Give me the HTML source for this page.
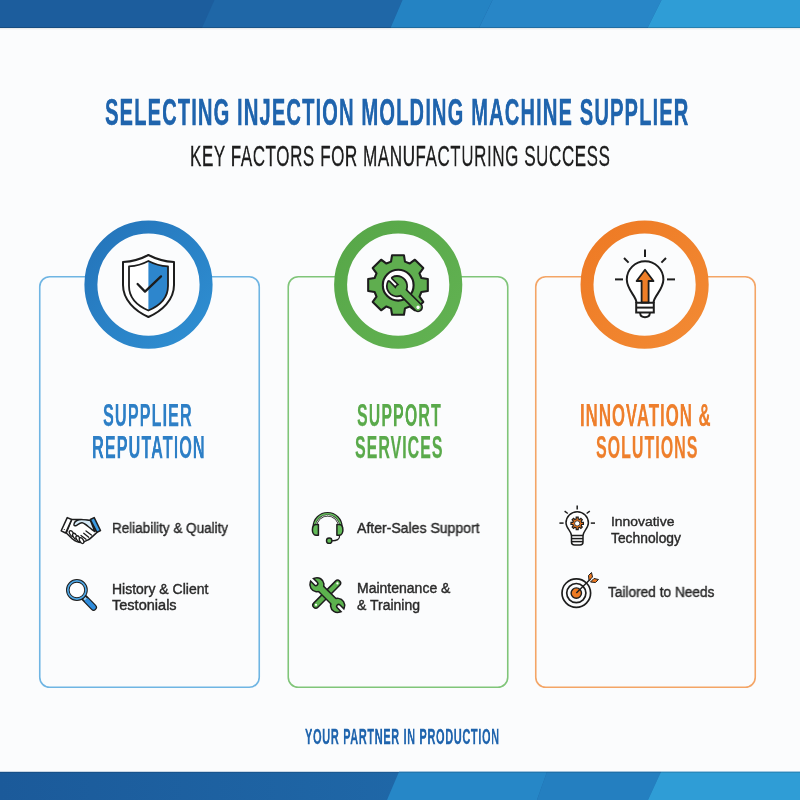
<!DOCTYPE html>
<html><head><meta charset="utf-8">
<style>
html,body{margin:0;padding:0;}
body{width:800px;height:800px;position:relative;overflow:hidden;background:#fbfcfd;font-family:"Liberation Sans",sans-serif;}
.t{position:absolute;white-space:nowrap;line-height:1;transform-origin:0 0;will-change:transform;}
svg{position:absolute;left:0;top:0;}
</style></head><body>
<svg width="800" height="800" viewBox="0 0 800 800">
<defs>
<linearGradient id="gb" x1="0" y1="0" x2="1" y2="1"><stop offset="0" stop-color="#2474ba"/><stop offset="1" stop-color="#2f8fd2"/></linearGradient>
<linearGradient id="gg" x1="0" y1="0" x2="1" y2="1"><stop offset="0" stop-color="#57a748"/><stop offset="1" stop-color="#62b252"/></linearGradient>
<linearGradient id="go" x1="0" y1="0" x2="1" y2="1"><stop offset="0" stop-color="#ee7a24"/><stop offset="1" stop-color="#f28a34"/></linearGradient>
<linearGradient id="shd" x1="0" y1="0" x2="0" y2="1"><stop offset="0" stop-color="#000" stop-opacity="0.10"/><stop offset="1" stop-color="#000" stop-opacity="0"/></linearGradient>
<linearGradient id="bbg" x1="0" y1="0" x2="400" y2="0" gradientUnits="userSpaceOnUse"><stop offset="0" stop-color="#1b5a9a"/><stop offset="1" stop-color="#1f67a7"/></linearGradient>
<clipPath id="rhalf"><rect x="148.4" y="250" width="40" height="80"/></clipPath>
</defs>
<g>
<rect x="0" y="0" width="800" height="28" fill="#1c5d9d"/>
<polygon points="214.5,0 402.5,0 390.5,28 202,28" fill="#1f67a7"/>
<polygon points="402.5,0 492.5,0 479,28 390.5,28" fill="#2483c3"/>
<polygon points="492.5,0 661.5,0 647.5,28 479,28" fill="#2886c7"/>
<polygon points="661.5,0 800,0 800,28 647.5,28" fill="#2f9dd6"/>
<rect x="0" y="27" width="800" height="1" fill="#000" opacity="0.18"/>
<rect x="0" y="28" width="800" height="2" fill="url(#shd)"/>
</g>
<g>
<rect x="0" y="771.8" width="800" height="28.2" fill="url(#bbg)"/>
<polygon points="399,771.8 547,771.8 537,800 387,800" fill="#2687c7"/>
<polygon points="547,771.8 661,771.8 648,800 537,800" fill="#247fc0"/>
<polygon points="661,771.8 800,771.8 800,800 648,800" fill="#2f9dd6"/>
<rect x="0" y="771.8" width="800" height="1" fill="#000" opacity="0.15"/>
</g>
<rect x="39.75" y="276.75" width="219.5" height="410.5" rx="10" fill="none" stroke="#6fb5e3" stroke-width="1.6"/>
<rect x="288.25" y="276.75" width="219.5" height="410.5" rx="10" fill="none" stroke="#80c579" stroke-width="1.6"/>
<rect x="535.75" y="276.75" width="219.5" height="410.5" rx="10" fill="none" stroke="#f4a566" stroke-width="1.6"/>
<circle cx="148.5" cy="284.6" r="57.6" fill="#fbfcfd" stroke="url(#gb)" stroke-width="13"/>
<circle cx="398.2" cy="284.6" r="57.6" fill="#fbfcfd" stroke="url(#gg)" stroke-width="13"/>
<circle cx="644.6" cy="284.6" r="57.6" fill="#fbfcfd" stroke="url(#go)" stroke-width="13"/>
<g stroke="#1d1d1d" stroke-linejoin="round">
<path d="M148.4,255 C156,259 165,261.5 174,262 L174,285 C174,300 162,311 148.4,317 C135,311 123,300 123,285 L123,262 C132,261.5 141,259 148.4,255 Z" fill="#fff" stroke-width="2.0"/>
<path d="M148.4,261 C155,264.5 161.5,266 168,266.4 L168,286 C168,298 159,306 148.4,310.5 C138,306 129,298 129,286 L129,266.4 C135.5,266 142,264.5 148.4,261 Z" fill="#fff" stroke="none"/>
<path clip-path="url(#rhalf)" d="M148.4,261 C155,264.5 161.5,266 168,266.4 L168,286 C168,298 159,306 148.4,310.5 C138,306 129,298 129,286 L129,266.4 C135.5,266 142,264.5 148.4,261 Z" fill="#2d86cd" stroke="none"/>
<path d="M148.4,261 C155,264.5 161.5,266 168,266.4 L168,286 C168,298 159,306 148.4,310.5 C138,306 129,298 129,286 L129,266.4 C135.5,266 142,264.5 148.4,261 Z" fill="none" stroke-width="1.8"/>
<path d="M137.6,284 L145,291.6 L161,276.4" fill="none" stroke-width="2.3" stroke-linecap="round"/>
</g>
<path d="M391.01,261.62 L392.07,255.18 L403.93,255.18 L404.99,261.62 L409.59,263.53 L414.89,259.72 L423.28,268.11 L419.47,273.41 L421.38,278.01 L427.82,279.07 L427.82,290.93 L421.38,291.99 L419.47,296.59 L423.28,301.89 L414.89,310.28 L409.59,306.47 L404.99,308.38 L403.93,314.82 L392.07,314.82 L391.01,308.38 L386.41,306.47 L381.11,310.28 L372.72,301.89 L376.53,296.59 L374.62,291.99 L368.18,290.93 L368.18,279.07 L374.62,278.01 L376.53,273.41 L372.72,268.11 L381.11,259.72 L386.41,263.53Z" fill="#5fae4f" stroke="#1d1d1d" stroke-width="2.1" stroke-linejoin="round"/>
<circle cx="398.2" cy="285.2" r="15.4" fill="#fff" stroke="#1d1d1d" stroke-width="2.1"/>
<g transform="translate(397,286.2) rotate(45)">
<defs><g id="wr1">
<path d="M-8.90,-2.7 L-0.2,-2.7 A2.7,2.7 0 0 1 -0.2,2.7 L-8.90,2.7 A9.3,9.3 0 1 0 -8.90,-2.7 Z"/>
<rect x="0" y="-3.3" width="33" height="6.6" rx="3.3"/>
</g></defs>
<use href="#wr1" fill="#1d1d1d" stroke="#1d1d1d" stroke-width="3.4" stroke-linejoin="round"/>
<use href="#wr1" fill="#5fae4f"/>
<circle cx="29.8" cy="0" r="1.7" fill="#fff"/>
</g>
<g stroke="#1d1d1d" fill="none" stroke-width="2" stroke-linecap="butt">
<path d="M636.5,303 C636.5,296 627,290.5 626.8,279.6 A18.3,18.3 0 1 1 663.4,279.6 C663.2,290.5 653.5,296 653.5,303" fill="#fff"/>
<path d="M640.2,312.4 L640.2,313.5 Q640.5,317.2 645,317.2 Q649.5,317.2 649.8,313.5 L649.8,312.4" fill="#fff"/>
<path d="M636.2,302.8 L653.8,302.8 L653.8,312.4 L636.2,312.4 Z" fill="#fff"/>
<line x1="636.2" y1="307.6" x2="653.8" y2="307.6"/>
<line x1="645" y1="249.5" x2="645" y2="257"/>
<line x1="624" y1="258" x2="628.6" y2="262.6"/>
<line x1="666" y1="258" x2="661.4" y2="262.6"/>
<line x1="615" y1="279.4" x2="623" y2="279.4"/>
<line x1="667" y1="279.4" x2="675" y2="279.4"/>
<path d="M645,269.8 L653.5,281 L648.6,281 L648.6,302.5 L641.6,302.5 L641.6,281 L636.6,281 Z" fill="#ef7e27" stroke-width="1.8" stroke-linejoin="round"/>
</g>
<g stroke="#1d1d1d" stroke-width="1.5" stroke-linejoin="round" stroke-linecap="round">
<path d="M71.6,519.6 L81,519.4 L90.4,520.6 L96.9,532.4 C93,536 90,539 87.6,540.2 C85,541.6 83,542.6 81,542.6 C78,542.6 75,541 72.5,539 L66.3,533 Z" fill="#fff"/>
<ellipse cx="71.6" cy="533.6" rx="3.2" ry="1.75" transform="rotate(58 71.6 533.6)" fill="#fff" stroke-width="1.3"/><ellipse cx="74.9" cy="536.2" rx="3.2" ry="1.75" transform="rotate(58 74.9 536.2)" fill="#fff" stroke-width="1.3"/><ellipse cx="78.2" cy="538.7" rx="3.2" ry="1.75" transform="rotate(58 78.2 538.7)" fill="#fff" stroke-width="1.3"/><ellipse cx="81.6" cy="540.6" rx="3.2" ry="1.75" transform="rotate(58 81.6 540.6)" fill="#fff" stroke-width="1.3"/>
<path d="M73.9,525 C74,522.5 76,520.5 79,519.8 C82,519.2 86,519.8 90.4,520.6 L94.8,531.6 C93,530.5 91,529 89.8,527.8 C87,525.5 84.5,523.2 82.1,522.8 C80,522.6 78,524.5 76.6,525.3 C75.5,526 74,526 73.9,525 Z" fill="#d6ebf8" stroke-width="1.4"/>
<path d="M86,531 L91.4,535 M83.7,533.3 L88.7,537.2 M81,535.5 L86,539.3" fill="none" stroke-width="1.3"/>
<path d="M67.25,517.6 L71.65,519.5 L65.6,533 L61.2,530.8 Z" fill="#fff"/>
<path d="M90.35,519.5 L94.2,517.6 L100.5,530.5 L96.95,532.4 Z" fill="#3b9be3"/>
<circle cx="64.3" cy="529.5" r="0.6" fill="#1d1d1d" stroke="none"/>
</g>
<g stroke-linecap="round">
<line x1="84.6" y1="598.2" x2="93.6" y2="607.4" stroke="#1d1d1d" stroke-width="6.8"/>
<line x1="86.8" y1="600.4" x2="93.6" y2="607.4" stroke="#2e8cdc" stroke-width="4.4"/>
<line x1="84.2" y1="597.8" x2="85.8" y2="599.4" stroke="#9ad0f2" stroke-width="3.2" stroke-linecap="butt"/>
<circle cx="76.9" cy="590" r="9.1" fill="#fff" stroke="#1d1d1d" stroke-width="3.6"/>
<circle cx="76.9" cy="590" r="9.1" fill="none" stroke="#4ea6e4" stroke-width="1.7"/>
</g>
<g stroke="#1d1d1d" stroke-linejoin="round" stroke-linecap="round">
<path d="M314.8,527 A12.8,12.8 0 0 1 340.4,527" fill="none" stroke-width="4.6"/>
<path d="M314.4,527 A13.2,13.2 0 0 1 340.8,527" fill="none" stroke="#66be5c" stroke-width="1.5"/>
<path d="M315.9,527 A11.7,11.7 0 0 1 339.3,527" fill="none" stroke="#d9e6d8" stroke-width="0.9"/>
<path d="M318.4,524.6 L318.4,535.2 L316,535.2 C313.5,535 312.4,532 312.4,529.9 C312.4,527.5 313.5,524.8 316,524.6 Z" fill="#62bb58" stroke-width="1.5"/>
<path d="M336.9,524.6 L336.9,535.2 L339.3,535.2 C341.8,535 342.9,532 342.9,529.9 C342.9,527.5 341.8,524.8 339.3,524.6 Z" fill="#62bb58" stroke-width="1.5"/>
<path d="M339.6,535.6 C339.8,539.5 337,540.8 331.5,540.8" fill="none" stroke-width="1.3"/>
<circle cx="329.2" cy="540.7" r="2.7" fill="#62bb58" stroke-width="1.4"/>
</g>
<g>
<line x1="315.8" y1="605.2" x2="337.6" y2="583.2" stroke="#1d1d1d" stroke-width="7.4" stroke-linecap="round"/>
<line x1="315.8" y1="605.2" x2="337.6" y2="583.2" stroke="#5cb24e" stroke-width="4.4" stroke-linecap="round"/>
<circle cx="316" cy="604.8" r="1.1" fill="#fff"/>
<circle cx="337.4" cy="583.4" r="1.1" fill="#fff"/>
<g transform="translate(317,584.8) rotate(45)">
<defs><g id="wr2">
<path d="M5.8,-2.7 L1.6,-2.7 A2.7,2.7 0 0 0 1.6,2.7 L5.8,2.7 A6.3,6.3 0 1 1 5.8,-2.7 Z" transform="rotate(180)"/>
<path d="M5.8,-2.7 L1.6,-2.7 A2.7,2.7 0 0 0 1.6,2.7 L5.8,2.7 A6.3,6.3 0 1 1 5.8,-2.7 Z" transform="translate(29,0)"/>
<rect x="2" y="-2.9" width="25" height="5.8"/>
</g></defs>
<use href="#wr2" fill="#1d1d1d" stroke="#1d1d1d" stroke-width="3"/>
<use href="#wr2" fill="#5cb24e"/>
</g>
</g>
<g stroke="#1d1d1d" fill="none" stroke-width="1.5">
<path d="M571.5,535.6 C571.5,531.5 566,528 566,523 A11.2,11.2 0 1 1 588.4,523 C588.4,528 583,531.5 583,535.6" fill="#fff"/>
<path d="M571.5,535.6 L583,535.6 L583,542 Q583,545 580,545 L574.5,545 Q571.5,545 571.5,542 Z" fill="#fff"/>
<line x1="571.5" y1="538.6" x2="583" y2="538.6"/>
<line x1="571.5" y1="541.6" x2="583" y2="541.6"/>
<line x1="577.2" y1="505.6" x2="577.2" y2="509.6"/>
<line x1="564.6" y1="511.2" x2="567.8" y2="513.5"/>
<line x1="589.8" y1="511.2" x2="586.6" y2="513.5"/>
<line x1="559.4" y1="523.1" x2="563.6" y2="523.1"/>
<line x1="590.8" y1="523.1" x2="595" y2="523.1"/>
<path d="M576.13,518.93 L576.21,517.18 L578.19,517.18 L578.27,518.93 L579.60,519.48 L580.90,518.30 L582.30,519.70 L581.12,521.00 L581.67,522.33 L583.42,522.41 L583.42,524.39 L581.67,524.47 L581.12,525.80 L582.30,527.10 L580.90,528.50 L579.60,527.32 L578.27,527.87 L578.19,529.62 L576.21,529.62 L576.13,527.87 L574.80,527.32 L573.50,528.50 L572.10,527.10 L573.28,525.80 L572.73,524.47 L570.98,524.39 L570.98,522.41 L572.73,522.33 L573.28,521.00 L572.10,519.70 L573.50,518.30 L574.80,519.48Z" fill="#e8741c" stroke-width="1.2"/>
<circle cx="577.2" cy="523.4" r="2.6" fill="#fff" stroke-width="0.8"/>
</g>
<g stroke="#1d1d1d" fill="none" stroke-width="1.7">
<circle cx="576.3" cy="593.1" r="14.3"/>
<circle cx="576.3" cy="593.1" r="9.6"/>
<circle cx="576.3" cy="593.1" r="5.2" fill="#ee7a22" stroke-width="1.4"/>
<line x1="576.3" y1="593.1" x2="590.5" y2="579" stroke-width="1.4"/>
<path d="M589,580.5 L588.5,575.5 L591.5,572.5 L592.5,577 Z" fill="#ee7a22" stroke-width="1"/>
<path d="M590.5,582 L595.5,582.5 L598.5,579.5 L594,578.5 Z" fill="#ee7a22" stroke-width="1"/>
</g>
</svg>
<div class="t" style="left:104.50px;top:93.81px;font-size:37.79px;letter-spacing:2.030px;font-weight:bold;color:#1f64ad;transform:scaleX(0.5349);-webkit-text-stroke:0.45px #1f64ad;">SELECTING INJECTION MOLDING MACHINE SUPPLIER</div>
<div class="t" style="left:190.00px;top:140.55px;font-size:29.94px;letter-spacing:1.027px;font-weight:normal;color:#1e1e1e;transform:scaleX(0.5679);-webkit-text-stroke:0.3px #1e1e1e;">KEY FACTORS FOR MANUFACTURING SUCCESS</div>
<div class="t" style="left:103.30px;top:399.88px;font-size:31.69px;letter-spacing:1.968px;font-weight:bold;color:#2d7fc6;transform:scaleX(0.5150);-webkit-text-stroke:0.25px #2d7fc6;">SUPPLIER</div>
<div class="t" style="left:91.90px;top:430.73px;font-size:31.98px;letter-spacing:1.962px;font-weight:bold;color:#2d7fc6;transform:scaleX(0.5105);-webkit-text-stroke:0.25px #2d7fc6;">REPUTATION</div>
<div class="t" style="left:356.60px;top:399.88px;font-size:31.69px;letter-spacing:2.220px;font-weight:bold;color:#5aaa4b;transform:scaleX(0.5027);-webkit-text-stroke:0.25px #5aaa4b;">SUPPORT</div>
<div class="t" style="left:354.50px;top:430.73px;font-size:31.98px;letter-spacing:2.002px;font-weight:bold;color:#5aaa4b;transform:scaleX(0.4996);-webkit-text-stroke:0.25px #5aaa4b;">SERVICES</div>
<div class="t" style="left:580.40px;top:399.88px;font-size:31.69px;letter-spacing:1.786px;font-weight:bold;color:#ee7f2c;transform:scaleX(0.5318);-webkit-text-stroke:0.25px #ee7f2c;">INNOVATION &amp;</div>
<div class="t" style="left:595.60px;top:430.73px;font-size:31.98px;letter-spacing:2.028px;font-weight:bold;color:#ee7f2c;transform:scaleX(0.5001);-webkit-text-stroke:0.25px #ee7f2c;">SOLUTIONS</div>
<div class="t" style="left:305.00px;top:727.21px;font-size:21.37px;letter-spacing:1.204px;font-weight:bold;color:#1f64ad;transform:scaleX(0.5160);-webkit-text-stroke:0.3px #1f64ad;">YOUR PARTNER IN PRODUCTION</div>
<div class="t" style="left:111.80px;top:521.10px;font-size:14.53px;letter-spacing:0.000px;font-weight:normal;color:#2a2a2a;transform:scaleX(0.9281);-webkit-text-stroke:0.4px #2a2a2a;">Reliability &amp; Quality</div>
<div class="t" style="left:111.80px;top:582.51px;font-size:13.81px;letter-spacing:0.000px;font-weight:normal;color:#2a2a2a;transform:scaleX(1.0131);-webkit-text-stroke:0.4px #2a2a2a;">History &amp; Client</div>
<div class="t" style="left:111.80px;top:598.79px;font-size:13.95px;letter-spacing:0.000px;font-weight:normal;color:#2a2a2a;transform:scaleX(1.0427);-webkit-text-stroke:0.4px #2a2a2a;">Testonials</div>
<div class="t" style="left:356.60px;top:521.37px;font-size:14.10px;letter-spacing:0.000px;font-weight:normal;color:#2a2a2a;transform:scaleX(0.9964);-webkit-text-stroke:0.4px #2a2a2a;">After-Sales Support</div>
<div class="t" style="left:356.60px;top:582.21px;font-size:13.81px;letter-spacing:0.000px;font-weight:normal;color:#2a2a2a;transform:scaleX(1.0150);-webkit-text-stroke:0.4px #2a2a2a;">Maintenance &amp;</div>
<div class="t" style="left:356.60px;top:598.99px;font-size:13.95px;letter-spacing:0.000px;font-weight:normal;color:#2a2a2a;transform:scaleX(1.0043);-webkit-text-stroke:0.4px #2a2a2a;">&amp; Training</div>
<div class="t" style="left:611.00px;top:515.03px;font-size:13.66px;letter-spacing:0.000px;font-weight:normal;color:#2a2a2a;transform:scaleX(1.0178);-webkit-text-stroke:0.4px #2a2a2a;">Innovative</div>
<div class="t" style="left:611.00px;top:532.01px;font-size:13.81px;letter-spacing:-0.000px;font-weight:normal;color:#2a2a2a;transform:scaleX(1.0021);-webkit-text-stroke:0.4px #2a2a2a;">Technology</div>
<div class="t" style="left:608.10px;top:586.19px;font-size:13.95px;letter-spacing:0.000px;font-weight:normal;color:#2a2a2a;transform:scaleX(0.9808);-webkit-text-stroke:0.4px #2a2a2a;">Tailored to Needs</div>

</body></html>
